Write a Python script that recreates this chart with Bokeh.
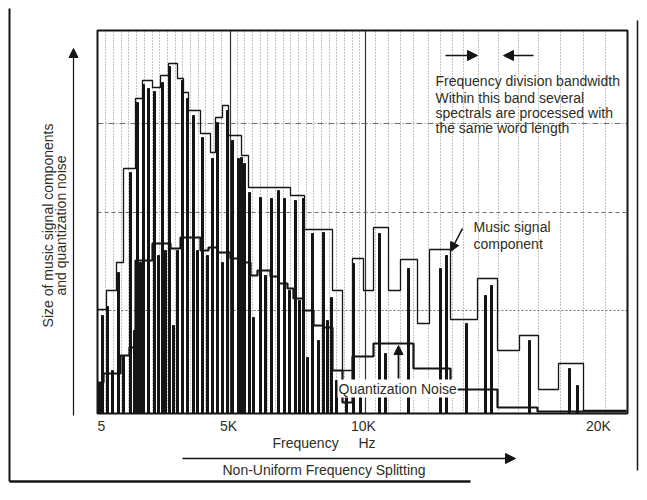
from math import pi
from bokeh.plotting import figure
from bokeh.models import Range1d, Label, Arrow, NormalHead
from bokeh.core.properties import value
from bokeh.embed import file_html
from bokeh.resources import INLINE

# ---- data (x = position on the non-uniform frequency scale, y = size) ----
tick_pos = [4, 131, 266, 501]
tick_labels = ["5", "5K", "10K", "20K"]

# frequency-division bands and music-signal envelope level per band
band_edges = [0, 9, 19, 26, 38, 45, 55, 63, 71, 80, 86, 91, 103, 113, 118, 125, 131, 144,
              151, 193, 207, 235, 245, 255, 266, 276, 291, 303, 320, 332, 353, 380, 400,
              422, 441, 461, 486, 529]
band_signal = [104, 123, 151, 245, 315, 333, 326, 338, 350, 335, 321, 303, 280, 261, 296,
               308, 278, 258, 226, 218, 184, 123, 43, 155, 123, 186, 123, 154, 90, 164, 94,
               135, 63, 78, 24, 50, 3]

# quantization noise level per band
noise_edges = [0, 6, 23, 32, 38, 55, 73, 83, 103, 111, 120, 133, 146, 153, 160, 173, 181,
               190, 196, 206, 216, 226, 235, 245, 255, 276, 316, 353, 400, 440, 529]
noise_level = [31, 40, 58, 66, 153, 170, 165, 176, 163, 166, 161, 155, 151, 138, 143, 137,
               130, 125, 115, 103, 88, 86, 43, 11, 57, 70, 45, 24, 6, 2]

# spectral lines (music signal components)
line_pos = [2, 5, 10, 15, 21, 26, 33, 37, 40, 43, 46, 51, 57, 61, 65, 68, 72, 76, 80, 85,
            90, 96, 100, 105, 110, 115, 120, 125, 130, 135, 141, 144, 147, 152, 156, 163,
            168, 174, 181, 187, 192, 198, 202, 206, 210, 215, 221, 226, 230, 234, 239, 249,
            256, 263, 282, 288, 311, 343, 349, 369, 388, 394, 432, 472, 480]
line_size = [30, 98, 107, 43, 141, 57, 241, 83, 311, 151, 329, 325, 322, 158, 331, 163, 347,
             88, 163, 333, 315, 298, 163, 276, 158, 255, 291, 151, 303, 273, 255, 256, 250,
             221, 96, 216, 138, 215, 223, 215, 123, 213, 113, 215, 56, 180, 73, 181, 93, 116,
             33, 18, 150, 20, 180, 60, 145, 145, 158, 90, 118, 128, 73, 45, 28]

# dotted grid along the frequency scale
grid_pos = [8, 16, 24, 31, 39, 47, 55, 62, 70, 78, 85, 93, 101, 108, 116, 124, 140, 147,
            155, 163, 170, 178, 186, 193, 201, 209, 216, 224, 232, 239, 247, 255, 262, 278,
            291, 303, 316, 331, 343, 355, 366, 381, 401, 421, 441, 463, 486, 508]
major_grid_pos = [133, 268]
level_grid = [103, 201, 290]
level_dash = ["2 2", "4 3", "6 2 1 2"]

X_MAX, Y_MAX = 530, 383      # extent of the scale box

TEXT = "#2e2e24"
INK = "#151515"
FONT = "Liberation Sans"

p = figure(width=647, height=500, output_backend="svg", toolbar_location=None,
           x_range=Range1d(-97, 550), y_range=Range1d(-87, 413),
           x_axis_location=None, y_axis_location=None, min_border=0)
p.background_fill_color = "white"
p.border_fill_color = "white"
p.outline_line_color = None
p.grid.visible = False

# grid
n = len(grid_pos)
p.segment(x0=grid_pos, y0=[0] * n, x1=grid_pos, y1=[Y_MAX] * n,
          line_color="#8a8a8a", line_dash="1 2", line_width=1)
m = len(major_grid_pos)
p.segment(x0=major_grid_pos, y0=[0] * m, x1=major_grid_pos, y1=[Y_MAX] * m,
          line_color="#333333", line_width=1.2)
for yv, dash in zip(level_grid, level_dash):
    p.line(x=[0, X_MAX], y=[yv, yv], line_color="#6f6f6f", line_dash=dash, line_width=1)

# spectral lines
p.vbar(x=line_pos, top=line_size, bottom=0, width=2.0, color=INK)

# envelope and noise
p.step(x=band_edges, y=band_signal + [band_signal[-1]], mode="after",
       line_color=INK, line_width=1.3)
p.step(x=noise_edges, y=noise_level + [noise_level[-1]], mode="after",
       line_color=INK, line_width=2.2)

# scale box
p.quad(left=[0], right=[X_MAX], bottom=[0], top=[Y_MAX], fill_color=None,
       line_color=INK, line_width=2)

# tick labels
p.text(x=tick_pos, y=[-12] * len(tick_pos), text=tick_labels, text_align="center",
       text_baseline="middle", text_font=value(FONT), text_font_size="14px",
       text_color=TEXT)


def lab(x, y, t, **kw):
    d = dict(text_font=FONT, text_font_size="14px", text_color=TEXT,
             text_baseline="middle")
    d.update(kw)
    p.add_layout(Label(x=x, y=y, text=t, **d))


def arrow(x0, y0, x1, y1, head=9, lw=1.5):
    end = NormalHead(size=head, fill_color=INK, line_color=INK) if head else None
    p.add_layout(Arrow(end=end, x_start=x0, y_start=y0, x_end=x1, y_end=y1,
                       line_color=INK, line_width=lw))


# annotation texts
lab(338, 333, "Frequency division bandwidth")
lab(338, 316, "Within this band several")
lab(338, 301, "spectrals are processed with")
lab(338, 286, "the same word length")
arrow(348, 358, 380, 358, head=10, lw=1.6)
arrow(436, 358, 406, 358, head=10, lw=1.6)

lab(376, 187, "Music signal")
lab(376, 170, "component")
arrow(365, 185, 353, 162, head=9, lw=1.6)

lab(240, 25, "Quantization Noise", background_fill_color="white", padding=1)
arrow(301, 35, 301, 68, head=9, lw=1.8)

lab(175, -29, "Frequency")
lab(261, -29, "Hz")
arrow(85, -45, 418, -45, head=10, lw=1.3)
lab(125, -56, "Non-Uniform Frequency Splitting")

lab(-50, 188, "Size of music signal components", angle=pi / 2, text_align="center")
lab(-37, 188, "and quantization noise", angle=pi / 2, text_align="center")
arrow(-24, -2, -24, 365, head=9, lw=1.2)

# outer frame
arrow(-88, 405, -88, -68, head=0, lw=2)
arrow(-88, -68, 373, -68, head=0, lw=2.5)
arrow(540, 393, 540, -57, head=0, lw=1.5)

open("out.html", "w").write(file_html(p, INLINE))
